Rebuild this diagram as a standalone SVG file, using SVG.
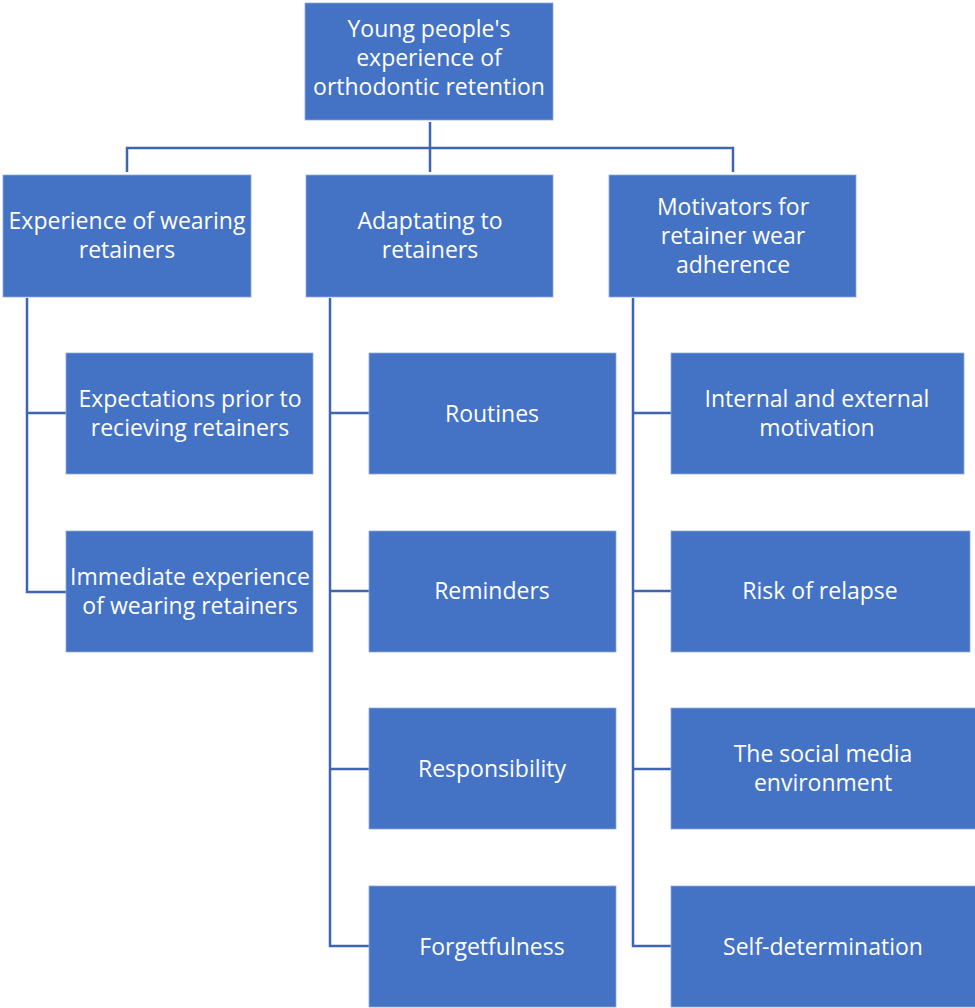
<svg xmlns="http://www.w3.org/2000/svg" width="975" height="1008" viewBox="0 0 975 1008">
<style>
.box{fill:#4472C4;stroke:#8FAADC;stroke-width:0.8}
.t{font-family:"Open Sans","Liberation Sans",sans-serif;font-size:23px;fill:#FFFFFF;text-anchor:middle}
.c{fill:none;stroke:#3F65AE;stroke-width:2.5}
</style>
<rect width="975" height="1008" fill="#FFFFFF"/>
<g id="connectors">
<path class="c" d="M430,122 V148 M127,172 V148 H733 V172 M430,148 V172"/>
<path class="c" d="M27,298 V592 H66 M27,413 H66"/>
<path class="c" d="M330,298 V946 H369 M330,413 H369 M330,591 H369 M330,769 H369"/>
<path class="c" d="M633,298 V946 H671 M633,413 H671 M633,591 H671 M633,769 H671"/>
</g>
<g id="root"><rect class="box" x="305" y="3" width="248" height="117"/>
<text class="t" x="429" y="37">Young people's</text><text class="t" x="429" y="66">experience of</text><text class="t" x="429" y="95">orthodontic retention</text></g>
<g id="n1"><rect class="box" x="3" y="175" width="248" height="122"/>
<text class="t" x="127" y="229">Experience of wearing</text><text class="t" x="127" y="258">retainers</text></g>
<g id="n2"><rect class="box" x="306" y="175" width="247" height="122"/>
<text class="t" x="430" y="229">Adaptating to</text><text class="t" x="430" y="258">retainers</text></g>
<g id="n3"><rect class="box" x="609" y="175" width="247" height="122"/>
<text class="t" x="733" y="215">Motivators for</text><text class="t" x="733" y="244">retainer wear</text><text class="t" x="733" y="273">adherence</text></g>
<g id="n1a"><rect class="box" x="66" y="353" width="247" height="121"/>
<text class="t" x="190" y="407">Expectations prior to</text><text class="t" x="190" y="436">recieving retainers</text></g>
<g id="n1b"><rect class="box" x="66" y="531" width="247" height="121"/>
<text class="t" x="190" y="585">Immediate experience</text><text class="t" x="190" y="614">of wearing retainers</text></g>
<g id="n2a"><rect class="box" x="369" y="353" width="247" height="121"/>
<text class="t" x="492" y="422">Routines</text></g>
<g id="n2b"><rect class="box" x="369" y="531" width="247" height="121"/>
<text class="t" x="492" y="599">Reminders</text></g>
<g id="n2c"><rect class="box" x="369" y="708" width="247" height="121"/>
<text class="t" x="492" y="777">Responsibility</text></g>
<g id="n2d"><rect class="box" x="369" y="886" width="247" height="121"/>
<text class="t" x="492" y="955">Forgetfulness</text></g>
<g id="n3a"><rect class="box" x="671" y="353" width="293" height="121"/>
<text class="t" x="817" y="407">Internal and external</text><text class="t" x="817" y="436">motivation</text></g>
<g id="n3b"><rect class="box" x="671" y="531" width="299" height="121"/>
<text class="t" x="820" y="599">Risk of relapse</text></g>
<g id="n3c"><rect class="box" x="671" y="708" width="305" height="121"/>
<text class="t" x="823" y="762">The social media</text><text class="t" x="823" y="791">environment</text></g>
<g id="n3d"><rect class="box" x="671" y="886" width="305" height="121"/>
<text class="t" x="823" y="955">Self-determination</text></g>
</svg>
